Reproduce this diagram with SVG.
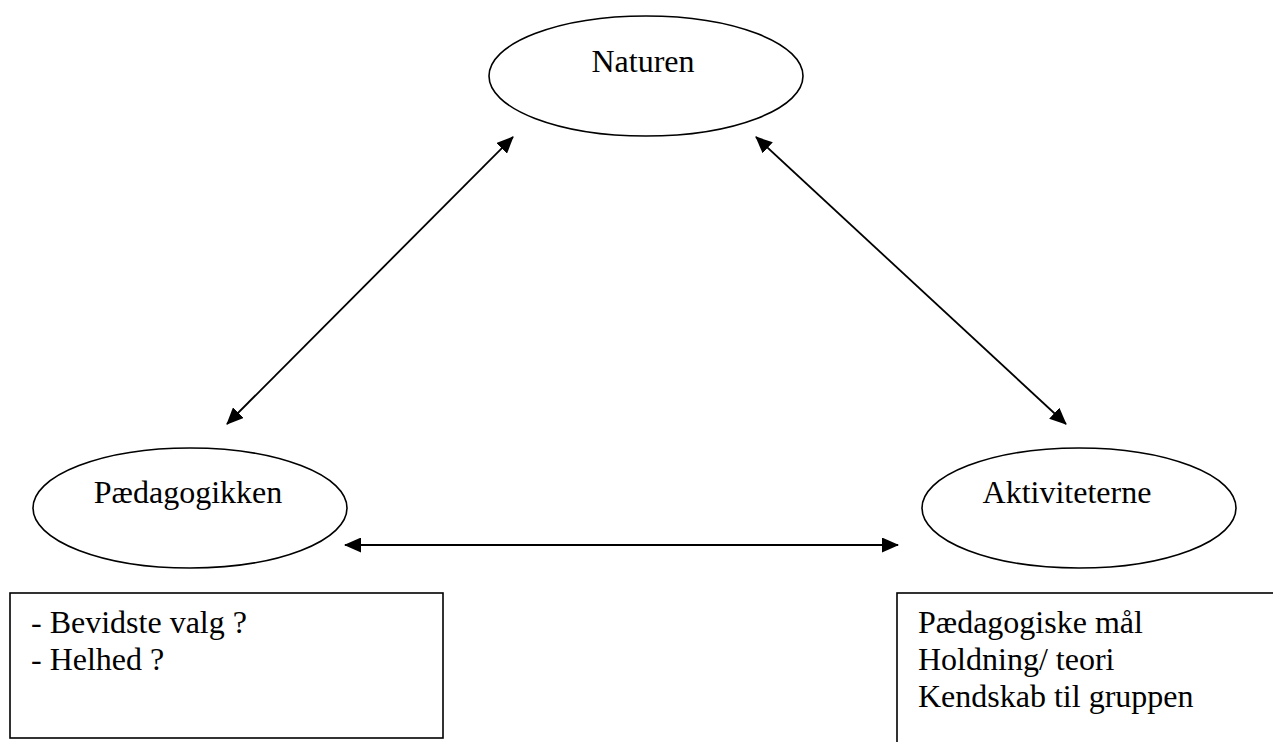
<svg xmlns="http://www.w3.org/2000/svg" width="1273" height="742" viewBox="0 0 1273 742">
<style>
.shape{fill:#fff;stroke:#000;stroke-width:1.6}
.lbl{font-family:"Liberation Serif","Times New Roman",serif;font-size:32px;fill:#000}
.conn{stroke:#000;stroke-width:1.8;fill:none;marker-start:url(#ah);marker-end:url(#ah)}
</style>
<defs>
<marker id="ah" markerUnits="userSpaceOnUse" viewBox="0 0 17 15" refX="16" refY="7.5" markerWidth="17" markerHeight="15" orient="auto-start-reverse">
<path d="M0,0 L17,7.5 L0,15 Z" fill="#000"/>
</marker>
</defs>
<rect width="1273" height="742" fill="#fff"/>
<g id="connectors">
<line class="conn" x1="227" y1="424" x2="513" y2="137"/>
<line class="conn" x1="756" y1="137" x2="1066" y2="424"/>
<line class="conn" x1="345" y1="545" x2="898" y2="545"/>
</g>
<g id="naturen">
<ellipse class="shape" cx="646" cy="76" rx="157" ry="60"/>
<text class="lbl" x="643" y="72" text-anchor="middle">Naturen</text>
</g>
<g id="paedagogikken">
<ellipse class="shape" cx="190" cy="508" rx="157" ry="60"/>
<text class="lbl" x="188" y="503" text-anchor="middle">Pædagogikken</text>
</g>
<g id="aktiviteterne">
<ellipse class="shape" cx="1079" cy="508" rx="157" ry="60"/>
<text class="lbl" x="1067" y="503" text-anchor="middle">Aktiviteterne</text>
</g>
<g id="box-left">
<rect class="shape" x="10" y="593" width="433" height="145"/>
<text class="lbl" x="31" y="633">- Bevidste valg ?</text>
<text class="lbl" x="31" y="670">- Helhed ?</text>
</g>
<g id="box-right">
<rect class="shape" x="897" y="593" width="400" height="170"/>
<text class="lbl" x="918" y="633">Pædagogiske mål</text>
<text class="lbl" x="918" y="670">Holdning/ teori</text>
<text class="lbl" x="918" y="707">Kendskab til gruppen</text>
</g>
</svg>
